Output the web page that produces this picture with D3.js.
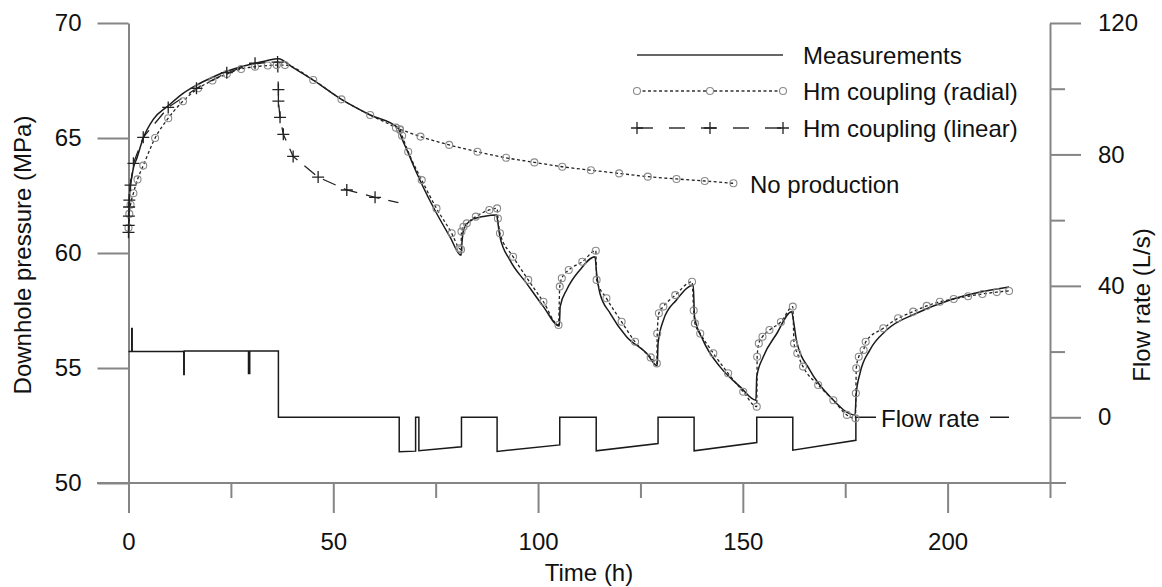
<!DOCTYPE html>
<html>
<head>
<meta charset="utf-8">
<script src="https://cdn.jsdelivr.net/npm/d3@7"></script>
<style>
  body { margin: 0; background: #fff; }
  svg { font-family: "Liberation Sans", Arial, sans-serif; }
  .axis path, .axis line { stroke: #858585; stroke-width: 2; }
  .axis text { font-size: 24px; fill: #111; font-family: "Liberation Sans", Arial, sans-serif; }
  .label { font-size: 24px; fill: #111; }
</style>
</head>
<body>
<svg width="1162" height="587"></svg>
<script>
// Measurements (downhole pressure, MPa)
const timeMeas = [0, 0.1, 0.4, 0.8, 1.2, 2.0, 3.6, 6.0, 9.7, 13, 16.6, 20, 24, 27.5, 30.9, 33.5, 36.6,
  40, 45.1, 52, 59, 65.9, 66.3, 68.3, 70.4, 74.4, 78.5, 81.2,
  81.4, 81.8, 82.8, 84.2, 87, 89.9,
  90.2, 90.7, 93.1, 97.2, 101.3, 105.2,
  105.4, 107, 110.2, 113.9,
  114.3, 115.1, 117.6, 121.6, 126.5, 129.1,
  129.3, 130.6, 133.8, 137.9,
  138.2, 140.3, 144.4, 149.3, 153.2,
  153.4, 155, 158.3, 161.9,
  162.5, 163.1, 166.4, 171.3, 177.4,
  177.7, 178.6, 181, 185.1, 192.4, 200.6, 208, 215];
const presMeas = [61.5, 62.0, 62.9, 63.3, 63.7, 64.1, 65.0, 65.8, 66.4, 66.9, 67.3, 67.6, 67.9, 68.1, 68.25, 68.35, 68.45,
  68.08, 67.52, 66.68, 66.0, 65.42, 65.2, 64.35, 63.47, 62.0, 60.7, 59.9,
  60.4, 61.0, 61.3, 61.47, 61.6, 61.65,
  61.3, 60.7, 59.7, 58.68, 57.67, 56.83,
  57.67, 58.4, 59.26, 59.84,
  59.12, 58.25, 57.38, 56.36, 55.64, 55.1,
  56.07, 57.08, 57.96, 58.6,
  57.23, 56.2, 55.06, 54.19, 53.6,
  54.62, 55.49, 56.5, 57.45,
  56.9, 56.2, 54.9, 53.75, 52.96,
  53.9, 54.77, 55.78, 56.65, 57.38, 57.96, 58.3, 58.52];

// Hm coupling (radial), with production
const timeRad = [0, 0.2, 0.5, 1.2, 2.2, 3.6, 6.5, 9.7, 13.3, 17, 20.5, 24, 27.5, 30.9, 34, 36.2, 38.2,
  45.1, 52, 59, 65.3, 66.3, 66.8, 68.3, 71.6, 75.2, 78.9, 80.8, 81.2,
  81.3, 81.8, 82.6, 84.8, 88.1, 90,
  90.2, 90.7, 93.9, 97.6, 101.3, 105.0,
  105.3, 105.8, 107.5, 110.8, 114.1,
  114.3, 116.7, 120.4, 123.7, 127.5, 129,
  129.1, 129.5, 130.6, 133.5, 137.6,
  138, 138.3, 139.6, 142.8, 146.4, 150.1, 153.4,
  153.5, 153.9, 154.8, 156.5, 159.3, 162.2,
  162.5, 163.3, 164.7, 168.4, 172.1, 175.4, 177.5,
  177.6, 177.7, 178.3, 179.5, 180, 184.3, 187.9, 191.6, 194.9, 198.1, 201.5, 205, 208.5, 212, 215];
const presRad = [61.1, 61.7, 62.1, 62.6, 63.2, 63.8, 65.0, 65.86, 66.6, 67.16, 67.5, 67.78, 68.0, 68.1, 68.15, 68.17, 68.17,
  67.52, 66.68, 66.0, 65.45, 65.35, 65.1, 64.4, 63.17, 61.94, 60.86, 60.2, 60.15,
  60.93, 61.14, 61.29, 61.58, 61.87, 61.94,
  61.5, 60.86, 59.84, 58.83, 57.88, 56.87,
  58.54, 58.9, 59.26, 59.62, 60.1,
  58.83, 58.03, 57.01, 56.14, 55.46, 55.2,
  56.5, 57.38, 57.67, 58.17, 58.75,
  57.5, 56.94, 56.5, 55.64, 54.77, 53.97, 53.32,
  55.49, 56.07, 56.36, 56.65, 57.0, 57.67,
  56.07, 55.64, 55.06, 54.26, 53.6, 52.96, 52.81,
  53.9, 54.99, 55.49, 55.78, 56.14, 56.73, 57.16, 57.45, 57.7, 57.88, 58.0, 58.12, 58.22, 58.3, 58.35];

// Hm coupling (radial), no production
const timeNoProd = [66.3, 71.3, 78.3, 85.2, 92.2, 99.1, 105.9, 112.9, 119.8, 126.8, 133.8, 140.7, 147.7];
const presNoProd = [65.38, 65.06, 64.7, 64.4, 64.14, 63.94, 63.75, 63.6, 63.46, 63.32, 63.22, 63.13, 63.03];

// Hm coupling (linear)
const timeLin = [0, 0.05, 0.1, 0.15, 0.2, 0.5, 1.2, 3.6, 9.7, 16.6, 24, 30.9, 36.4,
  36.6, 36.6, 37.0, 37.8, 40.2, 46.3, 53.3, 60.2, 65.9];
const presLin = [60.9, 61.2, 61.6, 62.0, 62.3, 62.95, 63.9, 65.03, 66.33, 67.16, 67.84, 68.25, 68.3,
  67.1, 66.6, 65.9, 65.16, 64.2, 63.3, 62.74, 62.42, 62.19];

// Flow rate (L/s)
const timeFlow = [0, 0.8, 0.8, 0.9, 0.9, 13.5, 13.5, 13.6, 13.6, 29.3, 29.3, 29.6, 29.6, 36.6, 36.6,
  66.1, 66.1, 70.1, 70.1, 70.9, 70.9, 81.3, 81.3, 90.0, 90.0, 105.3, 105.3, 114.2, 114.2,
  129.3, 129.3, 138.1, 138.1, 153.4, 153.4, 162.2, 162.2, 177.6, 177.6, 215];
const rateFlow = [20, 20, 27, 27, 20, 20, 13, 13, 20.2, 20.2, 13.3, 13.3, 20.2, 20.2, 0,
  0, -10.5, -10.3, 0, 0, -10.2, -9.0, 0, 0, -10.4, -8.4, 0, 0, -10.2,
  -8.0, 0, 0, -10.2, -7.7, 0, 0, -10.0, -7.0, 0, 0];

// Ticks
const pressureTicks = [50, 55, 60, 65, 70];
const flowTicks = [0, 40, 80, 120];
const flowMinorTicks = [20, 60, 100];
const timeTicks = [0, 50, 100, 150, 200];
const timeMinorTicks = [25, 75, 125, 175, 225];

const legendLabels = ["Measurements", "Hm coupling (radial)", "Hm coupling (linear)"];

var draw = function(){
  const svg = d3.select('svg');

  const xScale = d3.scaleLinear().domain([0, 225]).range([128.5, 1050]);
  const yLeft = d3.scaleLinear().domain([50, 70]).range([483, 23]);
  const yRight = d3.scaleLinear().domain([-20, 120]).range([483, 23]);

  // Axes
  svg.append('line')
    .attr('x1', 97).attr('x2', 1066).attr('y1', 483).attr('y2', 483)
    .attr('stroke', '#858585').attr('stroke-width', 2);

  svg.append('g').attr('class', 'axis')
    .attr('transform', 'translate(0,483)')
    .call(d3.axisBottom(xScale).tickValues(timeTicks).tickSize(30).tickPadding(20).tickFormat(d3.format('d')))
    .call(g => g.select('.domain').remove());

  svg.append('g').attr('class', 'axis')
    .attr('transform', 'translate(0,483)')
    .call(d3.axisBottom(xScale).tickValues(timeMinorTicks).tickSize(15).tickFormat(''))
    .call(g => g.select('.domain').remove());

  svg.append('g').attr('class', 'axis')
    .attr('transform', 'translate(128.5,0)')
    .call(d3.axisLeft(yLeft).tickValues(pressureTicks).tickSize(31).tickSizeOuter(0).tickPadding(16));

  svg.append('g').attr('class', 'axis')
    .attr('transform', 'translate(1050,0)')
    .call(d3.axisRight(yRight).tickValues(flowTicks).tickSize(31).tickSizeOuter(0).tickPadding(17));

  svg.append('g').attr('class', 'axis')
    .attr('transform', 'translate(1050,0)')
    .call(d3.axisRight(yRight).tickValues(flowMinorTicks).tickSize(15).tickFormat(''))
    .call(g => g.select('.domain').remove());

  // Curves
  const line = (xs, ys, yScale, curve) => d3.line()
    .curve(curve || d3.curveLinear)
    .x((d, i) => xScale(xs[i]))
    .y((d, i) => yScale(ys[i]))(xs);

  svg.append('path')
    .attr('d', line(timeFlow, rateFlow, yRight))
    .attr('fill', 'none').attr('stroke', '#1a1a1a').attr('stroke-width', 1.5);

  svg.append('path')
    .attr('d', line(timeLin, presLin, yLeft))
    .attr('fill', 'none').attr('stroke', '#222').attr('stroke-width', 1.3)
    .attr('stroke-dasharray', '14,9');

  svg.append('path')
    .attr('d', line(timeMeas, presMeas, yLeft, d3.curveMonotoneX))
    .attr('fill', 'none').attr('stroke', '#1a1a1a').attr('stroke-width', 1.5);

  svg.append('path')
    .attr('d', line(timeRad, presRad, yLeft, d3.curveMonotoneX))
    .attr('fill', 'none').attr('stroke', '#222').attr('stroke-width', 1.3)
    .attr('stroke-dasharray', '3,2.5');

  svg.append('path')
    .attr('d', line(timeNoProd, presNoProd, yLeft, d3.curveMonotoneX))
    .attr('fill', 'none').attr('stroke', '#222').attr('stroke-width', 1.3)
    .attr('stroke-dasharray', '3,2.5');

  // Markers
  const circles = timeRad.map((t, i) => [t, presRad[i]])
    .concat(timeNoProd.map((t, i) => [t, presNoProd[i]]));
  svg.append('g').selectAll('circle')
    .data(circles).enter().append('circle')
    .attr('cx', d => xScale(d[0])).attr('cy', d => yLeft(d[1]))
    .attr('r', 3.5).attr('fill', 'none').attr('stroke', '#8a8a8a').attr('stroke-width', 1.1);

  svg.append('g').selectAll('path')
    .data(timeLin.slice(0, -1)).enter().append('path')
    .attr('transform', (d, i) => `translate(${xScale(d)},${yLeft(presLin[i])})`)
    .attr('d', 'M-6,0H6M0,-6V6')
    .attr('stroke', '#222').attr('stroke-width', 1.3);

  // Legend
  const legend = svg.append('g');
  const rowY = [55, 91, 128];
  legend.append('line').attr('x1', 637).attr('x2', 783).attr('y1', rowY[0]).attr('y2', rowY[0])
    .attr('stroke', '#333').attr('stroke-width', 1.5);
  legend.append('line').attr('x1', 637).attr('x2', 783).attr('y1', rowY[1]).attr('y2', rowY[1])
    .attr('stroke', '#333').attr('stroke-width', 1.3).attr('stroke-dasharray', '3,2.5');
  legend.append('line').attr('x1', 637).attr('x2', 783).attr('y1', rowY[2]).attr('y2', rowY[2])
    .attr('stroke', '#333').attr('stroke-width', 1.3).attr('stroke-dasharray', '16,16');
  [637, 710, 783].forEach(function(lx){
    legend.append('circle').attr('cx', lx).attr('cy', rowY[1]).attr('r', 3.5)
      .attr('fill', '#fff').attr('stroke', '#8a8a8a').attr('stroke-width', 1.1);
    legend.append('path').attr('transform', `translate(${lx},${rowY[2]})`)
      .attr('d', 'M-6,0H6M0,-6V6').attr('stroke', '#222').attr('stroke-width', 1.3);
  });
  legend.selectAll('text').data(legendLabels).enter().append('text')
    .attr('class', 'label')
    .attr('x', 803).attr('y', (d, i) => rowY[i] + 8.5)
    .text(d => d);

  // Annotations
  svg.append('text').attr('class', 'label')
    .attr('x', 750).attr('y', 193).text('No production');

  svg.append('rect').attr('x', 876).attr('y', 404).attr('width', 114).attr('height', 30).attr('fill', '#fff');
  svg.append('text').attr('class', 'label')
    .attr('x', 881).attr('y', 427).text('Flow rate');

  // Axis titles
  svg.append('text').attr('class', 'label')
    .attr('transform', 'translate(31,255) rotate(-90)')
    .attr('text-anchor', 'middle')
    .text('Downhole pressure (MPa)');

  svg.append('text').attr('class', 'label')
    .attr('transform', 'translate(1150,305) rotate(-90)')
    .attr('text-anchor', 'middle')
    .text('Flow rate (L/s)');

  svg.append('text').attr('class', 'label')
    .attr('x', 589).attr('y', 581)
    .attr('text-anchor', 'middle')
    .text('Time (h)');
}

draw();
</script>
</body>
</html>
